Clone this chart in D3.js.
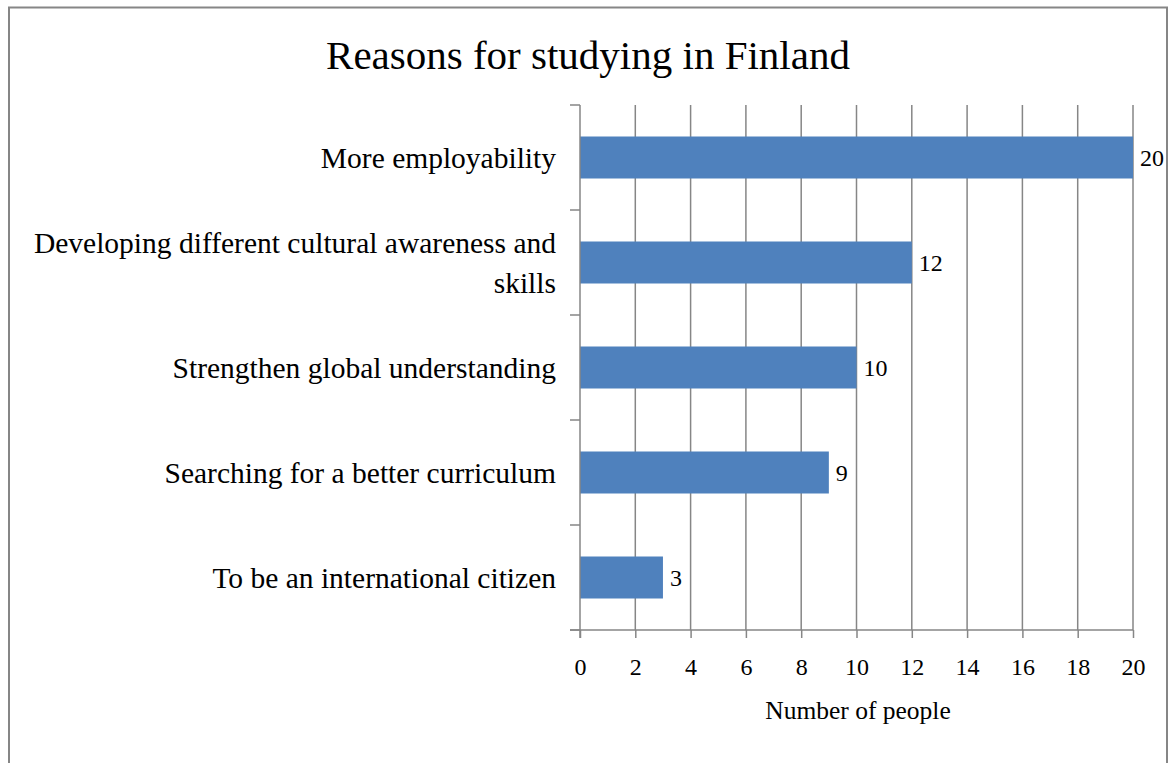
<!DOCTYPE html>
<html><head><meta charset="utf-8">
<script src="https://cdn.jsdelivr.net/npm/d3@7/dist/d3.min.js"></script>
<style>body{margin:0;background:#fff}svg{display:block}</style>
</head><body>
<svg id="c" width="1173" height="763"></svg>
<script>
const categories = ["More employability","Developing different cultural awareness and skills","Strengthen global understanding","Searching for a better curriculum","To be an international citizen"];
const labelLines = [["More employability"],["Developing different cultural awareness and","skills"],["Strengthen global understanding"],["Searching for a better curriculum"],["To be an international citizen"]];
const values = [20,12,10,9,3];
const xTicks = [0,2,4,6,8,10,12,14,16,18,20];
const title = "Reasons for studying in Finland";
const xTitle = "Number of people";

const svg = d3.select("#c");
const F = "'Liberation Serif','Times New Roman',serif";
const grid = "#868686";
svg.append("rect").attr("x",9).attr("y",7.5).attr("width",1158).attr("height",800)
  .attr("fill","#fff").attr("stroke","#868686").attr("stroke-width",2);

const m = {l:580, r:1133, t:105, b:630};
const x = d3.scaleLinear().domain([0,20]).range([m.l,m.r]);
const y = d3.scaleBand().domain(categories).range([m.t,m.b]).paddingInner(0.6).paddingOuter(0.3);

svg.append("text").attr("x",588).attr("y",69).attr("text-anchor","middle")
  .attr("font-family",F).attr("font-size",41).attr("fill","#000").text(title);

// gridlines
svg.append("g").selectAll("line").data(xTicks.slice(1)).join("line")
  .attr("x1",d=>x(d)).attr("x2",d=>x(d)).attr("y1",m.t).attr("y2",m.b)
  .attr("stroke",grid).attr("stroke-width",1.5);

// bars
svg.append("g").selectAll("rect").data(values).join("rect")
  .attr("x",x(0)).attr("y",(d,i)=>y(categories[i])).attr("width",d=>x(d)-x(0)).attr("height",y.bandwidth())
  .attr("fill","#4f81bd");

// value labels
svg.append("g").selectAll("text").data(values).join("text")
  .attr("x",d=>x(d)+7).attr("y",(d,i)=>y(categories[i])+y.bandwidth()/2).attr("dy","0.35em")
  .attr("font-family",F).attr("font-size",24).attr("fill","#000").text(d=>d);

// x axis
const xa = svg.append("g").attr("transform",`translate(0,${m.b})`)
  .call(d3.axisBottom(x).tickValues(xTicks).tickSize(8).tickSizeOuter(0).tickPadding(20));
xa.select(".domain").attr("stroke",grid).attr("stroke-width",1.5).attr("d",`M${m.l-10},0H${m.r}`);
xa.selectAll(".tick line").attr("stroke",grid).attr("stroke-width",1.5);
xa.selectAll("text").attr("font-family",F).attr("font-size",24).attr("fill","#000");

// y axis: ticks at band boundaries
const bounds = d3.range(categories.length+1).map(i=>m.t+(m.b-m.t)*i/categories.length);
svg.append("line").attr("x1",m.l).attr("x2",m.l).attr("y1",m.t).attr("y2",m.b+8).attr("stroke",grid).attr("stroke-width",1.5);
svg.append("g").selectAll("line").data(bounds).join("line")
  .attr("x1",m.l-10).attr("x2",m.l).attr("y1",d=>d).attr("y2",d=>d).attr("stroke",grid).attr("stroke-width",1.5);

// category labels
const lab = svg.append("g").selectAll("text").data(categories).join("text")
  .attr("text-anchor","end").attr("font-family",F).attr("font-size",29.5).attr("fill","#000")
  .attr("transform",(d,i)=>`translate(556,${y(d)+y.bandwidth()/2})`);
lab.each(function(d,i){
  const L = labelLines[i], lh = 40, off = -(L.length-1)*lh/2;
  d3.select(this).selectAll("tspan").data(L).join("tspan")
    .attr("x",0).attr("y",(t,j)=>off+j*lh).attr("dy","0.35em").text(t=>t);
});

svg.append("text").attr("x",858).attr("y",719).attr("text-anchor","middle")
  .attr("font-family",F).attr("font-size",25.5).attr("fill","#000").text(xTitle);
</script>
</body></html>
